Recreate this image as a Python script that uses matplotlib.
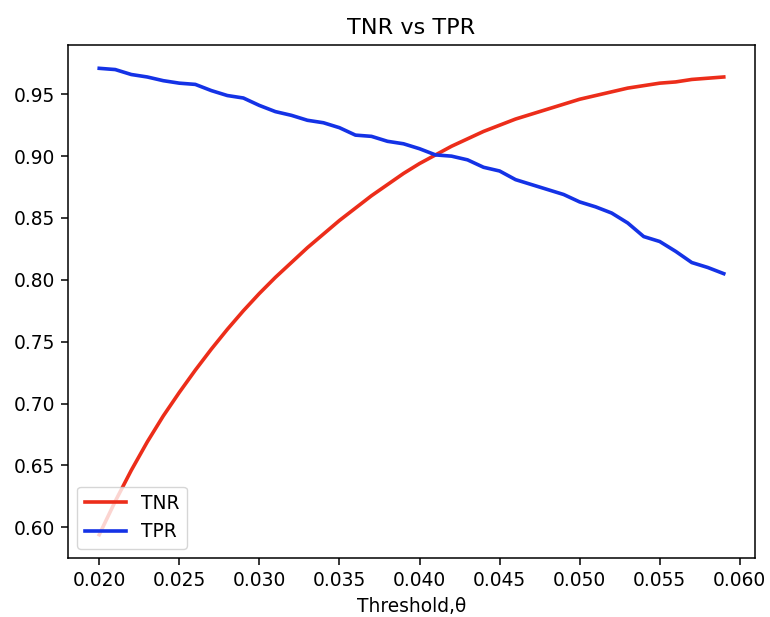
import numpy as np
import matplotlib
matplotlib.use('Agg')
import matplotlib.pyplot as plt

# threshold values (step 0.001)
thresholds = [0.020, 0.021, 0.022, 0.023, 0.024, 0.025, 0.026, 0.027, 0.028, 0.029,
              0.030, 0.031, 0.032, 0.033, 0.034, 0.035, 0.036, 0.037, 0.038, 0.039,
              0.040, 0.041, 0.042, 0.043, 0.044, 0.045, 0.046, 0.047, 0.048, 0.049,
              0.050, 0.051, 0.052, 0.053, 0.054, 0.055, 0.056, 0.057, 0.058, 0.059]

tnr = [0.594, 0.621, 0.646, 0.669, 0.690, 0.709, 0.727, 0.744, 0.760, 0.775,
       0.789, 0.802, 0.814, 0.826, 0.837, 0.848, 0.858, 0.868, 0.877, 0.886,
       0.894, 0.901, 0.908, 0.914, 0.920, 0.925, 0.930, 0.934, 0.938, 0.942,
       0.946, 0.949, 0.952, 0.955, 0.957, 0.959, 0.960, 0.962, 0.963, 0.964]

tpr = [0.971, 0.970, 0.966, 0.964, 0.961, 0.959, 0.958, 0.953, 0.949, 0.947,
       0.941, 0.936, 0.933, 0.929, 0.927, 0.923, 0.917, 0.916, 0.912, 0.910,
       0.906, 0.901, 0.900, 0.897, 0.891, 0.888, 0.881, 0.877, 0.873, 0.869,
       0.863, 0.859, 0.854, 0.846, 0.835, 0.831, 0.823, 0.814, 0.810, 0.805]

fs = 13.4

fig = plt.figure(figsize=(7.7, 6.17), dpi=100)
ax = fig.add_axes([68 / 770, 1 - 558 / 617, (755 - 68) / 770, (558 - 45) / 617])

ax.plot(thresholds, tnr, color='#ec2d1a', linewidth=2.6, label='TNR')
ax.plot(thresholds, tpr, color='#1432e6', linewidth=2.6, label='TPR')

ax.set_title('TNR vs TPR', fontsize=fs * 1.2, pad=8)
ax.set_xlabel('Threshold,\u03b8', fontsize=fs, labelpad=5)
ax.set_xticks(np.arange(0.020, 0.0601, 0.005))
ax.xaxis.set_major_formatter(matplotlib.ticker.FormatStrFormatter('%.3f'))
ax.yaxis.set_major_formatter(matplotlib.ticker.FormatStrFormatter('%.2f'))
ax.tick_params(labelsize=fs, length=4.7, width=1.1, pad=4.7)
for s in ax.spines.values():
    s.set_linewidth(1.1)

ax.legend(loc='lower left', fontsize=fs, handlelength=2.2)

fig.savefig('out.png', dpi=100)
